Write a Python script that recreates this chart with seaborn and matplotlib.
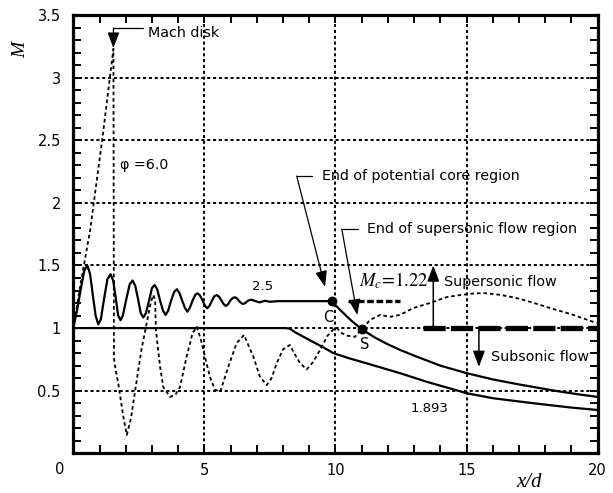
import numpy as np
import pandas as pd
import seaborn as sns
import matplotlib
matplotlib.use("Agg")
import matplotlib.pyplot as plt
from matplotlib.patches import FancyArrowPatch
from matplotlib.ticker import MultipleLocator

# ---------------- data ----------------
# phi = 2.5 jet (solid, oscillating then potential-core decay)
core_x = [0.0, 0.15, 0.3, 0.42, 0.535, 0.64, 0.74, 0.85, 0.95, 1.05, 1.17, 1.30, 1.42,
          1.52, 1.62, 1.71, 1.80, 1.89, 2.02, 2.15, 2.26, 2.36, 2.47, 2.57, 2.67, 2.77,
          2.89, 3.0, 3.1, 3.2, 3.31, 3.42, 3.52, 3.62, 3.73, 3.85, 3.95, 4.05, 4.15, 4.26,
          4.35, 4.44, 4.55, 4.65, 4.74, 4.83, 4.93, 5.03, 5.11, 5.2, 5.29, 5.38, 5.47,
          5.56, 5.65, 5.74, 5.82, 5.9, 5.99, 6.08, 6.17, 6.25, 6.33, 6.41, 6.48, 6.56,
          6.64, 6.72, 6.80, 6.95, 7.1, 7.3, 7.5, 7.8, 8.2, 9.0, 9.85,
          10.2, 10.6, 11.0, 11.5, 12.0, 12.46, 13.0, 14.0, 15.0, 16.0, 17.0, 17.54,
          18.5, 19.3, 20.0]
core_m = [1.00, 1.15, 1.33, 1.46, 1.50, 1.43, 1.27, 1.10, 1.03, 1.07, 1.23, 1.39, 1.43,
          1.38, 1.24, 1.10, 1.063, 1.10, 1.23, 1.35, 1.38, 1.34, 1.23, 1.12, 1.085, 1.12,
          1.22, 1.32, 1.344, 1.31, 1.22, 1.14, 1.105, 1.14, 1.22, 1.29, 1.31, 1.28, 1.22, 1.16,
          1.131, 1.16, 1.22, 1.265, 1.278, 1.26, 1.22, 1.175, 1.158, 1.18, 1.22, 1.255, 1.264,
          1.25, 1.22, 1.19, 1.176, 1.19, 1.22, 1.24, 1.246, 1.235, 1.215, 1.198, 1.193, 1.20,
          1.215, 1.224, 1.226, 1.215, 1.205, 1.218, 1.21, 1.215, 1.215, 1.215, 1.215,
          1.14, 1.06, 0.99, 0.925, 0.87, 0.826, 0.78, 0.70, 0.64, 0.59, 0.55, 0.53,
          0.495, 0.47, 0.45]

# phi = 1.893 jet (solid, subsonic core)
sub_x = [0.0, 8.1, 8.26, 8.45, 8.65, 9.0, 9.5, 9.92, 10.5, 11.0, 12.46, 13.5, 15.0, 16.0, 17.54, 19.0, 20.0]
sub_m = [1.0, 1.0, 0.995, 0.968, 0.945, 0.905, 0.85, 0.80, 0.76, 0.73, 0.64, 0.57, 0.48, 0.44, 0.40, 0.365, 0.346]

# phi = 6.0 jet (dotted, with Mach disk)
phi_x = [0.0, 0.3, 0.64, 1.1, 1.53, 1.55, 1.62, 1.72, 1.91, 2.04, 2.2, 2.42, 2.6, 2.80, 2.95,
         3.05, 3.12, 3.15, 3.31, 3.43, 3.69, 3.9, 4.07, 4.32, 4.55, 4.71, 4.85, 4.96, 5.21,
         5.4, 5.6, 5.91, 6.23, 6.51, 6.87, 7.12, 7.38, 7.56, 7.76, 8.0, 8.26, 8.45, 8.65,
         8.9, 9.15, 9.41, 9.7, 9.92, 10.05, 10.24, 10.43, 10.74, 11.0, 11.32, 11.7, 12.08,
         12.46, 12.97, 13.6, 14.2, 14.62, 15.2, 15.64, 16.3, 16.9, 17.5, 18.18, 19.0, 19.96]
phi_m = [1.00, 1.38, 1.78, 2.50, 3.23, 0.76, 0.66, 0.55, 0.29, 0.146, 0.28, 0.585, 0.83, 1.04, 1.2,
         1.264, 1.22, 0.985, 0.69, 0.53, 0.45, 0.47, 0.53, 0.77, 0.96, 1.01, 0.92, 0.825, 0.61,
         0.51, 0.49, 0.69, 0.88, 0.945, 0.77, 0.61, 0.545, 0.60, 0.72, 0.83, 0.865, 0.79, 0.72,
         0.67, 0.73, 0.825, 0.94, 0.99, 1.0, 0.96, 0.94, 0.93, 0.99, 1.065, 1.105, 1.09,
         1.105, 1.16, 1.2, 1.245, 1.26, 1.275, 1.28, 1.265, 1.24, 1.205, 1.16, 1.11, 1.04]

# characteristic points C (end of potential core) and S (end of supersonic flow)
pt_x = [9.85, 11.0]
pt_m = [1.215, 0.993]
pt_labels = ["C", "S"]

Mc = 1.22
mc_x = [10.49, 12.46]
sonic_x = [13.35, 20.0]

xticks = [0, 5, 10, 15, 20]
xtick_labels = ["", "5", "10", "15", "20"]
yticks = [0.5, 1.0, 1.5, 2.0, 2.5, 3.0, 3.5]
ytick_labels = ["0.5", "1", "1.5", "2", "2.5", "3", "3.5"]

# ---------------- figure ----------------
sns.set_theme(style="ticks")
plt.rcParams["font.family"] = ["DejaVu Sans"]
plt.rcParams["mathtext.fontset"] = "stix"

fig = plt.figure(figsize=(6.13, 4.93), dpi=100)
ax = fig.add_axes([0.1196, 0.0805, 0.8554, 0.8891])

ax.set_xlim(0, 20)
ax.set_ylim(0, 3.5)

grid_style = dict(color="black", lw=1.4, linestyle=(0, (1.6, 1.4)))
ax.set_xticks(xticks)
ax.set_xticklabels(xtick_labels)
ax.set_yticks(yticks)
ax.set_yticklabels(ytick_labels)
ax.xaxis.set_minor_locator(MultipleLocator(1))
ax.yaxis.set_minor_locator(MultipleLocator(0.1))
ax.grid(True, which="major", **grid_style)
ax.set_axisbelow(True)

ax.tick_params(which="both", direction="in", top=True, right=True,
               length=5.5, width=1.4, color="black")
ax.tick_params(axis="x", which="major", pad=7, labelsize=10.5, labelcolor="black")
ax.tick_params(axis="y", which="major", pad=9, labelsize=10.5, labelcolor="black")
for sp in ax.spines.values():
    sp.set_linewidth(2.3)
    sp.set_color("black")

# curves
sns.lineplot(x=core_x, y=core_m, ax=ax, color="black", lw=1.6,
             sort=False, estimator=None)
sns.lineplot(x=sub_x, y=sub_m, ax=ax, color="black", lw=1.6,
             sort=False, estimator=None)
sns.lineplot(x=phi_x, y=phi_m, ax=ax, color="black", lw=1.3,
             linestyle=(0, (2.0, 1.6)), sort=False, estimator=None)

# Mc line and sonic line
sns.lineplot(x=mc_x, y=[Mc, Mc], ax=ax, color="black", lw=2.4,
             linestyle=(0, (2.0, 0.8)), sort=False, estimator=None)
sns.lineplot(x=sonic_x, y=[1.0, 1.0], ax=ax, color="black", lw=3.8,
             linestyle=(0, (4.2, 1.0)), sort=False, estimator=None)

# points C, S
sns.scatterplot(x=pt_x, y=pt_m, ax=ax, color="black", s=50, zorder=5,
                edgecolor="black", linewidth=0)

def arrow(x0, y0, x1, y1, lw=0.9):
    ax.add_patch(FancyArrowPatch((x0, y0), (x1, y1),
                                 arrowstyle="-|>,head_length=0.8,head_width=0.3",
                                 mutation_scale=12, lw=lw, color="black",
                                 shrinkA=0, shrinkB=0, zorder=6))

def line(xs, ys, lw=0.9):
    ax.plot(xs, ys, color="black", lw=lw, zorder=6)

fs = 10.3
# Mach disk
line([1.53, 2.67], [3.395, 3.395])
arrow(1.53, 3.395, 1.53, 3.235)
ax.text(2.86, 3.36, "Mach disk", fontsize=fs, ha="left", va="center", color="black")
ax.text(1.78, 2.30, "φ =6.0", fontsize=fs, ha="left", va="center", color="black")

# End of potential core region
line([8.52, 9.09], [2.214, 2.214])
arrow(8.52, 2.214, 9.6, 1.33)
ax.text(9.47, 2.214, "End of potential core region", fontsize=fs,
        ha="left", va="center", color="black")

# End of supersonic flow region
line([10.24, 10.87], [1.79, 1.79])
arrow(10.24, 1.79, 10.83, 1.105)
ax.text(11.21, 1.79, "End of supersonic flow region", fontsize=fs,
        ha="left", va="center", color="black")

# curve labels
ax.text(7.2, 1.33, "2.5", fontsize=9.5, ha="center", va="center", color="black")
ax.text(13.6, 0.36, "1.893", fontsize=9.5, ha="center", va="center", color="black")
ax.text(10.9, 1.38, r"$M_c$=1.22", fontsize=13.5, ha="left", va="center",
        family="STIXGeneral", color="black")

# super / subsonic arrows
arrow(13.73, 1.0, 13.73, 1.5, lw=1.1)
ax.text(14.12, 1.37, "Supersonic flow", fontsize=fs, ha="left", va="center", color="black")
arrow(15.47, 1.0, 15.47, 0.69, lw=1.1)
ax.text(15.93, 0.767, "Subsonic flow", fontsize=fs, ha="left", va="center", color="black")

# C and S labels
ax.text(9.73, 1.086, pt_labels[0], fontsize=10.5, ha="center", va="center", color="black")
ax.text(11.13, 0.865, pt_labels[1], fontsize=10.5, ha="center", va="center", color="black")

# origin label and axis labels
ax.text(-0.0254, -0.038, "0", transform=ax.transAxes, fontsize=10.5,
        ha="center", va="center", color="black")
ax.set_xlabel("x/d", fontsize=15, family="Liberation Serif", fontstyle="italic", color="black")
ax.xaxis.label.set_va("center")
ax.xaxis.set_label_coords(0.869, -0.0655)
ax.set_ylabel("M", fontsize=14, family="Liberation Serif", fontstyle="italic",
              rotation=90, color="black")
ax.yaxis.label.set_va("center")
ax.yaxis.set_label_coords(-0.1007, 0.92)

fig.savefig("out.png", dpi=100)
